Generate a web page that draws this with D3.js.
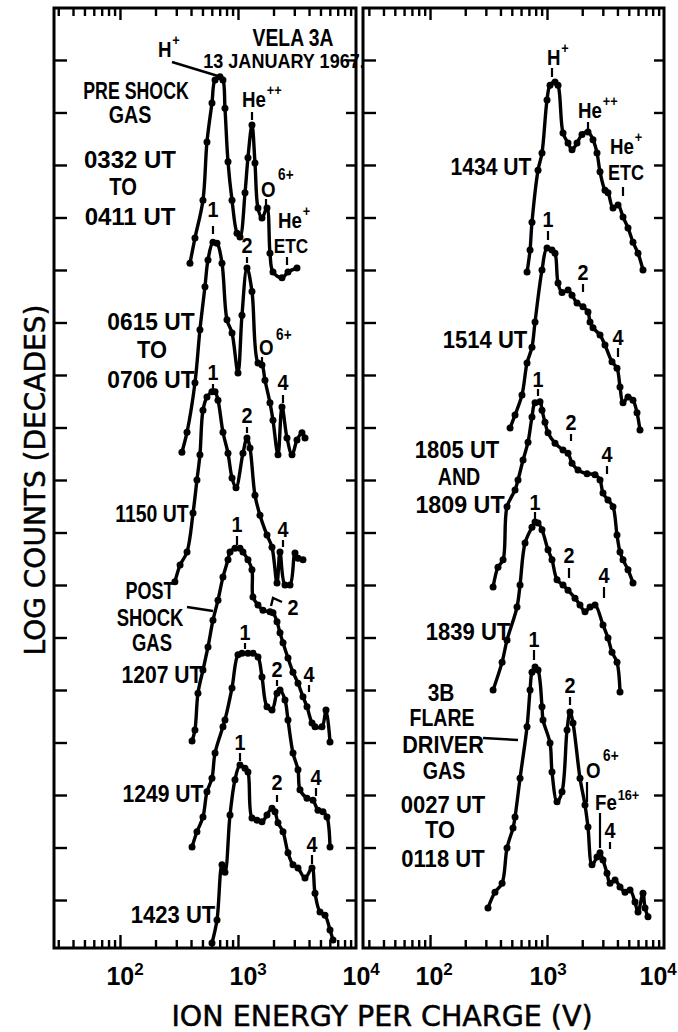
<!DOCTYPE html>
<html>
<head>
<meta charset="utf-8">
<title>Vela 3A ion spectra, 13 January 1967</title>
<script src="https://cdn.jsdelivr.net/npm/d3@7/dist/d3.min.js"></script>
<style>
  html, body { margin: 0; padding: 0; background: #fff; }
  svg { display: block; }
  .lbl { font-family: "Liberation Sans Narrow", "Liberation Sans", sans-serif; font-weight: bold; fill: #000; }
  .title { font-family: "DejaVu Sans", sans-serif; fill: #000; stroke: #000; stroke-width: 0.5px; }
</style>
</head>
<body>
<svg id="chart" width="678" height="1032"></svg>
<script>
// ---------------------------------------------------------------------------
// Spectra: ion energy per charge (V) and log counts in decades. Each spectrum
// sits at its own offset on the stacked decade scale.
// ---------------------------------------------------------------------------

// Left panel
const e0332 = [392,432,505,546,602,639,704,746,776,823,890,981,1040,1147,1215,1314,1393,1477,1597,1761,1867,1980,2360,2653,3162];
const d0332 = [13.13,13.61,14.33,15.44,16.18,16.62,16.68,16.62,16.08,15.06,14.33,13.70,13.63,14.47,15.14,15.76,15.04,14.18,13.99,14.18,13.32,12.96,12.85,12.96,13.04];

const e0615 = [335,370,432,476,525,557,614,664,732,807,890,1000,1081,1192,1314,1477,1597,1693,1867,1980,2183,2360,2602,2869,3162,3486,3697];
const d0615 = [9.53,9.91,10.85,11.86,12.68,13.19,13.53,13.51,13.13,12.05,11.80,11.04,12.14,13.04,12.59,11.23,11.19,10.90,10.47,10.14,9.48,10.39,9.80,9.48,9.76,9.90,9.80];

const e1150 = [292,323,370,416,449,476,505,546,602,639,677,746,823,890,962,1102,1192,1264,1393,1536,1761,1942,2141,2270,2502,2759,3042,3225,3555];
const d1150 = [7.06,7.38,7.63,8.37,9.00,9.48,10.33,10.58,10.68,10.68,10.52,9.91,9.51,9.04,8.85,9.51,9.80,9.61,8.71,8.33,7.95,7.72,7.04,7.63,7.00,7.00,7.61,7.51,7.48];

const e1207 = [408,432,458,505,557,614,677,746,823,856,943,1040,1102,1215,1314,1340,1477,1629,1867,1980,2141,2270,2407,2653,2925,3225,3555,3844,4238,4494,5151,5570,6023];
const d1207 = [4.03,4.24,4.94,5.38,5.82,6.33,6.71,7.15,7.48,7.63,7.70,7.70,7.63,7.48,7.29,6.77,6.62,6.52,6.49,6.47,6.30,6.09,5.90,5.61,5.34,5.13,4.87,4.68,4.37,4.30,4.30,4.62,4.01];

const e1249 = [408,449,505,546,602,639,746,776,890,1000,1081,1215,1340,1477,1597,1761,1942,2141,2270,2502,2653,2925,3225,3353,3844,4322,4764,5252,5678,6023];
const d1249 = [2.01,2.30,2.58,3.06,3.32,3.80,4.30,4.43,5.04,5.67,5.70,5.70,5.70,5.63,5.25,4.68,4.62,4.94,5.00,4.81,4.43,3.80,3.48,3.10,2.94,2.90,2.71,2.68,2.58,2.01];

const e1423 = [602,664,732,776,856,943,1040,1147,1215,1314,1449,1597,1761,1942,2059,2183,2407,2653,2925,3225,3697,4238,4494,4954,5462,6023,6386];
const d1423 = [0.18,0.62,1.67,1.53,2.62,3.29,3.57,3.51,3.44,2.56,2.52,2.49,2.62,2.75,2.68,2.47,2.30,1.90,1.67,1.61,1.42,1.61,1.13,0.77,0.71,0.43,0.24];

// Right panel
const e1434 = [675,716,744,838,906,1000,1061,1171,1242,1370,1512,1636,1805,1991,2240,2472,2675,2838,3131,3322,3666,4045,4463,4924,5433,5995,6614];
const d1434 = [12.96,13.38,13.91,14.90,15.23,16.24,16.52,16.58,16.52,15.61,15.42,15.29,15.42,15.58,15.63,15.48,15.23,14.87,14.52,14.47,14.18,14.24,14.01,13.80,13.53,13.32,13.00];

const e1514 = [483,533,611,675,744,790,906,1000,1103,1171,1242,1344,1512,1636,1805,2031,2240,2331,2472,2838,3131,3594,3966,4207,4463,4924,5433,5878,6235];
const d1514 = [9.99,10.24,10.62,11.23,11.53,12.01,13.00,13.42,13.38,13.32,12.75,12.57,12.62,12.52,12.37,12.30,12.20,12.01,11.90,11.76,11.57,11.25,11.13,10.77,10.47,10.58,10.52,10.28,9.95];

const e1805 = [346,381,421,455,533,565,624,688,744,790,871,906,961,1020,1171,1370,1512,1636,1841,2197,2572,2838,3010,3322,3666,3966,4207,4463,4924,5433];
const d1805 = [6.96,7.34,7.48,8.49,8.81,9.00,9.38,9.72,10.20,10.47,10.49,10.33,10.10,9.90,9.70,9.57,9.51,9.32,9.19,9.12,9.10,9.00,8.75,8.62,8.49,7.95,7.63,7.48,7.29,7.04];

const e1839 = [346,413,455,554,588,649,744,790,838,906,1020,1103,1218,1370,1512,1735,1914,2112,2331,2572,3010,3322,3594,3966,4207];
const d1839 = [5.00,5.53,5.95,6.58,7.00,7.80,8.10,8.20,8.18,8.05,7.67,7.48,7.10,7.00,6.90,6.75,6.62,6.49,6.58,6.62,6.24,5.99,5.72,5.53,4.96];

const e0027 = [313,359,413,455,512,533,588,675,716,744,790,838,906,924,1061,1103,1218,1344,1483,1573,1668,1914,2112,2240,2424,2675,2838,3010,3257,3455,3813,4207,4642,5122,5651,5995,6614,6880,7298];
const d0027 = [0.85,1.15,1.32,1.99,2.37,2.58,3.32,4.30,5.00,5.34,5.44,5.38,4.68,4.43,3.99,3.44,2.87,3.06,4.24,4.58,4.37,3.32,2.81,2.39,1.67,1.82,1.90,1.76,1.51,1.32,1.38,1.25,1.15,1.19,0.96,0.77,1.13,0.85,0.68];

// Axis ticks
const energyTicks = [30,40,50,60,70,80,90,100,200,300,400,500,600,700,800,900,1000,2000,3000,4000,5000,6000,7000,8000,9000];
const majorEnergies = [100, 1000];
const decadeTicks = d3.range(1, 18);
const labelExponents = [2, 3, 4];

// ---------------------------------------------------------------------------
// Layout
// ---------------------------------------------------------------------------
const TOP = 8, BOTTOM = 948;
const yScale = d3.scaleLinear().domain([0.086, 17.99]).range([BOTTOM, TOP]);

const panels = [
  { x0: 54, x1: 356, x: d3.scaleLog().domain([Math.pow(10, 1.441), 1e4]).range([54, 356]),
    spectra: [[e0332, d0332], [e0615, d0615], [e1150, d1150], [e1207, d1207], [e1249, d1249], [e1423, d1423]],
    expShift: [-2, 3, -2] },
  { x0: 363, x1: 664, x: d3.scaleLog().domain([Math.pow(10, 1.427), 1e4]).range([363, 664]),
    spectra: [[e1434, d1434], [e1514, d1514], [e1805, d1805], [e1839, d1839], [e0027, d0027]],
    expShift: [-3, -6, -13] }
];

const svg = d3.select("#chart");
const line = d3.line().curve(d3.curveCatmullRom.alpha(0.5));

panels.forEach((p, i) => {
  const g = svg.append("g");
  const clipId = "clip" + i;
  svg.append("clipPath").attr("id", clipId)
    .append("rect").attr("x", p.x0).attr("y", TOP).attr("width", p.x1 - p.x0).attr("height", BOTTOM - TOP);

  const minor = energyTicks.filter(e => !majorEnergies.includes(e));
  const tickStyle = sel => {
    sel.select(".domain").remove();
    sel.selectAll(".tick line").attr("stroke", "#000").attr("stroke-width", 2.4);
  };
  // bottom and top energy ticks (pointing inwards)
  g.append("g").attr("transform", `translate(0,${BOTTOM})`)
    .call(d3.axisBottom(p.x).tickValues(minor).tickSize(-8).tickFormat("")).call(tickStyle);
  g.append("g").attr("transform", `translate(0,${BOTTOM})`)
    .call(d3.axisBottom(p.x).tickValues(majorEnergies).tickSize(-13).tickFormat("")).call(tickStyle);
  g.append("g").attr("transform", `translate(0,${TOP})`)
    .call(d3.axisTop(p.x).tickValues(minor).tickSize(-8).tickFormat("")).call(tickStyle);
  g.append("g").attr("transform", `translate(0,${TOP})`)
    .call(d3.axisTop(p.x).tickValues(majorEnergies).tickSize(-12).tickFormat("")).call(tickStyle);
  // decade ticks on both sides
  g.append("g").attr("transform", `translate(${p.x0},0)`)
    .call(d3.axisLeft(yScale).tickValues(decadeTicks).tickSize(-13).tickFormat("")).call(tickStyle);
  g.append("g").attr("transform", `translate(${p.x1},0)`)
    .call(d3.axisRight(yScale).tickValues(decadeTicks).tickSize(-10).tickFormat("")).call(tickStyle);

  // frame
  g.append("rect").attr("x", p.x0).attr("y", TOP).attr("width", p.x1 - p.x0).attr("height", BOTTOM - TOP)
    .attr("fill", "none").attr("stroke", "#000").attr("stroke-width", 3);

  // exponent labels 10^n under the axis
  labelExponents.forEach((n, k) => {
    const cx = p.x(Math.pow(10, n)) + p.expShift[k];
    const t = g.append("text").attr("class", "lbl").attr("x", cx - 11.5).attr("y", 985)
      .style("font-size", "25px");
    t.append("tspan").text("10");
    t.append("tspan").attr("dy", -10).style("font-size", "17px").text(String(n));
  });

  // spectra
  const sg = g.append("g").attr("clip-path", `url(#${clipId})`);
  p.spectra.forEach(([es, ds]) => {
    const pts = es.map((e, j) => [p.x(e), yScale(ds[j])]);
    sg.append("path").attr("d", line(pts)).attr("fill", "none")
      .attr("stroke", "#000").attr("stroke-width", 3.4).attr("stroke-linejoin", "round");
    sg.selectAll(null).data(pts).enter().append("circle")
      .attr("cx", d => d[0]).attr("cy", d => d[1]).attr("r", 3.5).attr("fill", "#000");
  });
});

// ---------------------------------------------------------------------------
// Annotations
// ---------------------------------------------------------------------------
// [text, centre x, baseline y, horizontal squeeze, font size]
const textLayout = [
  ["VELA 3A", 293, 46, 0.84, 23],
  ["13 JANUARY 1967.", 284, 68, 0.86, 21],
  ["PRE SHOCK", 136, 99, 0.74, 24],
  ["GAS", 130, 123, 0.82, 24],
  ["0332 UT", 130, 168, 1.0, 24],
  ["TO", 123, 195, 0.84, 24],
  ["0411 UT", 130, 225, 1.0, 24],
  ["0615 UT", 151, 330, 0.95, 24],
  ["TO", 152, 358, 0.91, 24],
  ["0706 UT", 151, 388, 0.95, 24],
  ["1150 UT", 152, 522, 0.81, 24],
  ["POST", 150, 599, 0.75, 24],
  ["SHOCK", 150, 626, 0.77, 24],
  ["GAS", 152, 651, 0.77, 24],
  ["1207 UT", 162, 683, 0.88, 24],
  ["1249 UT", 163, 802, 0.88, 24],
  ["1423 UT", 173, 923, 0.92, 24],
  ["1434 UT", 491, 175, 0.88, 24],
  ["1514 UT", 485, 348, 0.92, 24],
  ["1805 UT", 457, 458, 0.92, 24],
  ["AND", 459, 485, 0.82, 24],
  ["1809 UT", 460, 513, 0.97, 24],
  ["1839 UT", 468, 640, 0.92, 24],
  ["3B", 441, 701, 0.87, 24],
  ["FLARE", 442, 726, 0.81, 24],
  ["DRIVER", 443, 753, 0.9, 24],
  ["GAS", 444, 779, 0.82, 24],
  ["0027 UT", 443, 813, 0.92, 24],
  ["TO", 440, 838, 0.91, 24],
  ["0118 UT", 443, 867, 0.92, 24],
  ["ETC", 291, 253, 0.82, 21],
  ["ETC", 626, 180, 0.82, 22],
  ["2", 293, 615, 0.9, 22]
];

// peak numbers (charge state) with the short tick beneath each
const peakMarks = [
  ["1", 213, 217, 226, 234], ["2", 247, 253, 257, 263], ["4", 283, 390, 395, 403],
  ["1", 213, 380, 384, 390], ["2", 247, 423, 427, 433], ["4", 283, 537, 540, 547],
  ["1", 237, 532, 536, 545], ["4", 309, 682, 685, 692],
  ["1", 245, 640, 643, 649], ["2", 277, 677, 680, 686], ["4", 316, 785, 788, 796],
  ["1", 240, 750, 753, 761], ["2", 277, 790, 795, 802], ["4", 312, 852, 855, 864],
  ["1", 548, 227, 231, 240], ["2", 583, 280, 284, 292], ["4", 618, 345, 348, 357],
  ["1", 538, 387, 389, 396], ["2", 571, 430, 434, 441], ["4", 607, 462, 466, 474],
  ["1", 535, 510, 512, 520], ["2", 569, 563, 568, 578], ["4", 604, 583, 587, 598],
  ["1", 534, 647, 650, 660], ["2", 570, 693, 697, 705], ["4", 610, 838, 842, 849]
];

// ion species with raised charge: [symbol, charge, x, baseline, raise, size]
const ionLabels = [
  ["H", "+", 158, 57, -12, 15],
  ["He", "++", 242, 107, -12, 15],
  ["O", "6+", 261, 197, -17, 16],
  ["He", "+", 278, 228, -12, 15],
  ["O", "6+", 259, 355, -15, 16],
  ["H", "+", 547, 65, -12, 15],
  ["He", "++", 578, 118, -12, 15],
  ["He", "+", 610, 154, -12, 15],
  ["O", "6+", 586, 778, -17, 16],
  ["Fe", "16+", 595, 810, -10, 15]
];

const markerTicks = [
  [252, 112, 120], [266, 199, 206], [287, 257, 265], [262, 357, 363],
  [552, 68, 77], [588, 122, 129], [623, 187, 196], [587, 782, 802], [600, 813, 848]
];

const leaderLines = [
  [[172, 62], [218, 76]],
  [[187, 607], [213, 611]],
  [[271, 606], [273, 598], [282, 602]],
  [[483, 738], [518, 740]]
];

const ann = svg.append("g");

textLayout.forEach(([s, x, y, sx, size]) => {
  ann.append("text").attr("class", "lbl")
    .attr("transform", `translate(${x},${y}) scale(${sx},1)`)
    .attr("text-anchor", "middle").style("font-size", size + "px").text(s);
});

peakMarks.forEach(([s, x, y, t0, t1]) => {
  ann.append("text").attr("class", "lbl")
    .attr("transform", `translate(${x},${y}) scale(0.9,1)`)
    .attr("text-anchor", "middle").style("font-size", "22px").text(s);
  ann.append("line").attr("x1", x).attr("x2", x).attr("y1", t0).attr("y2", t1)
    .attr("stroke", "#000").attr("stroke-width", 2.2);
});

ionLabels.forEach(([base, sup, x, y, dy, size]) => {
  const t = ann.append("text").attr("class", "lbl")
    .attr("transform", `translate(${x},${y}) scale(0.85,1)`)
    .style("font-size", "22px");
  t.append("tspan").text(base);
  t.append("tspan").attr("dx", base === "O" ? 3 : 1).attr("dy", dy)
    .style("font-size", size + "px").text(sup);
});

markerTicks.forEach(([x, y0, y1]) => {
  ann.append("line").attr("x1", x).attr("x2", x).attr("y1", y0).attr("y2", y1)
    .attr("stroke", "#000").attr("stroke-width", 2.2);
});

leaderLines.forEach(pts => {
  ann.append("path").attr("d", d3.line()(pts)).attr("fill", "none")
    .attr("stroke", "#000").attr("stroke-width", 2.4);
});

// axis titles
svg.append("text").attr("class", "title")
  .attr("transform", "translate(45,480) rotate(-90)")
  .attr("text-anchor", "middle").style("font-size", "28px")
  .text("LOG COUNTS (DECADES)");

svg.append("text").attr("class", "title")
  .attr("x", 382).attr("y", 1026)
  .attr("text-anchor", "middle").style("font-size", "28.5px")
  .text("ION ENERGY PER CHARGE (V)");
</script>
</body>
</html>
